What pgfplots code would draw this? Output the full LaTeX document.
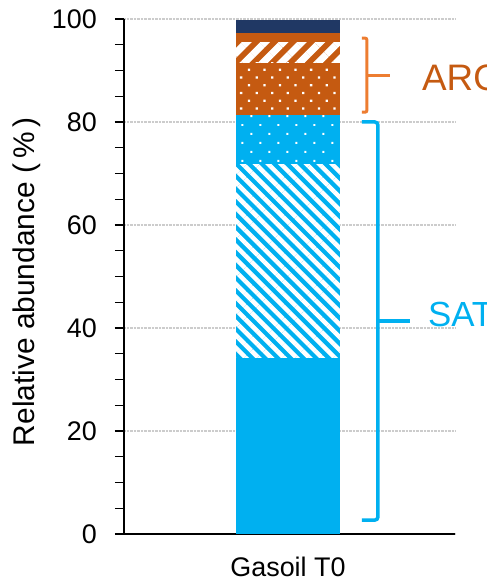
\documentclass[border=0pt]{standalone}
\usepackage{fontspec}
\setmainfont{Liberation Sans}
\usepackage{pgfplots}
\pgfplotsset{compat=1.18}
\usetikzlibrary{patterns.meta}
\definecolor{satblue}{RGB}{0,176,240}
\definecolor{arobrown}{RGB}{197,90,17}
\definecolor{aroorange}{RGB}{237,125,49}
\definecolor{navyc}{RGB}{32,56,100}
\begin{document}
\begin{tikzpicture}
\path[use as bounding box] (-124bp,-49bp) rectangle (363bp,534bp);
\begin{axis}[
  at={(0,0)}, anchor=south west,
  scale only axis, width=331bp, height=515bp,
  xmin=0, xmax=1, ymin=0, ymax=100,
  axis x line*=bottom, axis y line*=left,
  axis line style={-, black, line width=1.5bp},
  ybar stacked, bar width=104bp,
  ytick={0,20,...,100}, minor ytick={5,10,...,95},
  xtick={0.4955}, xticklabels={Gasoil T0},
  x tick style={draw=none},
  y tick style={black, line width=1.2bp},
  tick align=outside, major tick length=9bp, minor tick length=9bp,
  ymajorgrids, major grid style={gray!40, densely dotted, line width=1.2bp},
  /pgf/number format/assume math mode=true,
  tick label style={font=\fontsize{27}{32}\selectfont},
  yticklabel style={inner sep=0pt, xshift=-18bp},
  xticklabel style={inner sep=0pt, anchor=north, yshift=-14bp},
  ylabel={Relative abundance (\,\%\,)},
  every axis y label/.style={at={(axis description cs:-0.295,0.49)}, rotate=90, anchor=center, font=\fontsize{30}{34}\selectfont},
  clip=false,
]
\addplot[fill=satblue, draw=none] coordinates {(0.4955,34.2)};
\addplot[fill=satblue, draw=none, postaction={pattern={Lines[angle=-45,distance=9bp,line width=4.5bp]}, pattern color=white}] coordinates {(0.4955,37.6)};
\addplot[fill=satblue, draw=none, postaction={pattern={Dots[angle=45,distance=12.7bp,radius=1.4bp]}, pattern color=white}] coordinates {(0.4955,9.6)};
\addplot[fill=arobrown, draw=none, postaction={pattern={Dots[angle=45,distance=11bp,radius=1.6bp]}, pattern color=white}] coordinates {(0.4955,10.1)};
\addplot[fill=arobrown, draw=none, postaction={pattern={Lines[angle=45,distance=13bp,line width=7bp]}, pattern color=white}] coordinates {(0.4955,4.0)};
\addplot[fill=arobrown, draw=none] coordinates {(0.4955,1.8)};
\addplot[fill=navyc, draw=none] coordinates {(0.4955,2.5)};
\draw[aroorange, line width=3bp, rounded corners=2bp] (axis cs:0.719,96.3) -- (axis cs:0.734,96.3) -- (axis cs:0.734,81.9) -- (axis cs:0.719,81.9);
\draw[aroorange, line width=3bp] (axis cs:0.734,89.1) -- (axis cs:0.804,89.1);
\node[anchor=base west, text=arobrown, inner sep=0pt, font=\fontsize{37}{40}\selectfont] at (axis cs:0.900,86.2) {ARO};
\draw[satblue, line width=3.5bp, rounded corners=3bp] (axis cs:0.719,80.0) -- (axis cs:0.767,80.0) -- (axis cs:0.767,2.7) -- (axis cs:0.719,2.7);
\draw[satblue, line width=3.5bp] (axis cs:0.767,41.4) -- (axis cs:0.864,41.4);
\node[anchor=base west, text=satblue, inner sep=0pt, font=\fontsize{35}{40}\selectfont] at (axis cs:0.918,40.2) {SAT};
\end{axis}
\end{tikzpicture}
\end{document}
